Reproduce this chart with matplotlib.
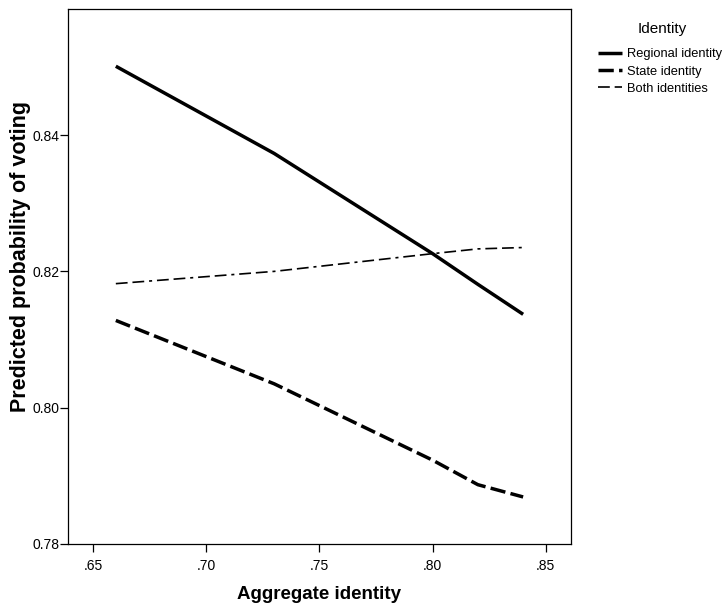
import numpy as np
import matplotlib
matplotlib.use("Agg")
import matplotlib.pyplot as plt

plt.rcParams['font.family'] = ['Liberation Sans', 'DejaVu Sans']
plt.rcParams['lines.scale_dashes'] = False

# values
agg = [0.66, 0.73, 0.80, 0.82, 0.84]
regional = [0.8501, 0.8373, 0.8226, 0.8181, 0.8137]
state = [0.8128, 0.8035, 0.7923, 0.7887, 0.7869]
both = [0.8182, 0.8200, 0.8226, 0.8233, 0.8235]
labels = ["Regional identity", "State identity", "Both identities"]

fig = plt.figure(figsize=(7.26, 6.08), dpi=100)
ax = fig.add_axes([0.0941, 0.1053, 0.786 - 0.0941, 0.9852 - 0.1053])

l1, = ax.plot(agg, regional, color='black', lw=2.5, solid_capstyle='butt')
l2, = ax.plot(agg, state, color='black', lw=2.5, dashes=(11, 3.8), dash_capstyle='butt')
l3, = ax.plot(agg, both, color='black', lw=1.2, dashes=(8.5, 3.5, 8.5, 3.5, 2.2, 3.5))

ax.set_xlim(0.639, 0.861)
ax.set_ylim(0.78, 0.8585)
ax.set_xticks([0.65, 0.70, 0.75, 0.80, 0.85])
ax.set_xticklabels(['.65', '.70', '.75', '.80', '.85'])
ax.set_yticks([0.78, 0.80, 0.82, 0.84])
ax.set_yticklabels(['0.78', '0.80', '0.82', '0.84'])
ax.tick_params(direction='out', length=5.5, width=0.9, labelsize=10)
ax.tick_params(axis='y', pad=0.5)
ax.tick_params(axis='x', pad=5)
for s in ax.spines.values():
    s.set_linewidth(0.9)

ax.set_xlabel("Aggregate identity", fontsize=13.5, fontweight='bold', labelpad=10)
ax.set_ylabel("Predicted probability of voting", fontsize=15.5, fontweight='bold')
ax.yaxis.set_label_coords(-0.074, 0.538)

fig.text(0.912, 0.952, "Identity", fontsize=11, ha='center', va='center')
fig.legend([l1, l2, l3], labels, loc='upper left', bbox_to_anchor=(0.817, 0.929),
           frameon=False, fontsize=9.3, handlelength=1.85, handletextpad=0.4,
           labelspacing=0.4, borderaxespad=0)

fig.savefig("out.png", dpi=100)
